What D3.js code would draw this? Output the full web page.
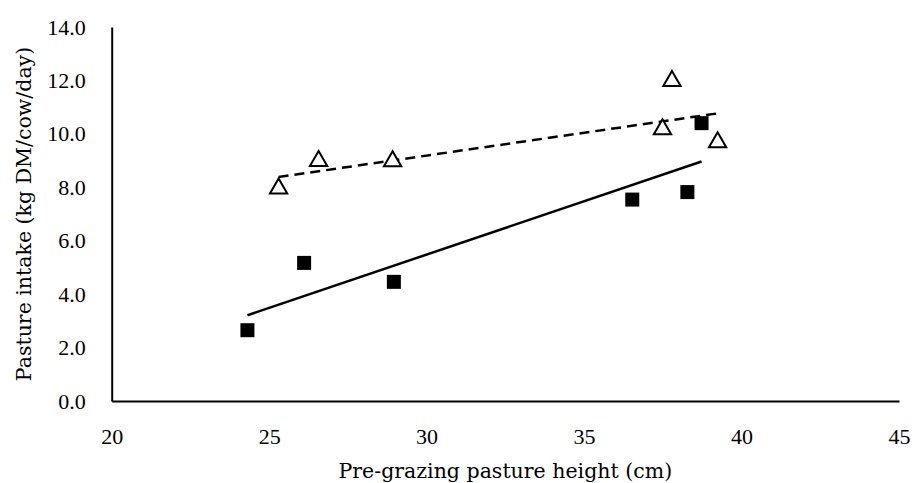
<!DOCTYPE html>
<html><head><meta charset="utf-8">
<script src="https://cdn.jsdelivr.net/npm/d3@7"></script>
<style>body{margin:0;background:#fff}svg{display:block}text{font-family:"DejaVu Serif",serif;fill:#000}</style>
</head><body><div id="chart"></div>
<script>
const xTicks = [20, 25, 30, 35, 40, 45];
const yTicks = [0, 2, 4, 6, 8, 10, 12, 14];
const squareX = [24.31, 26.11, 28.96, 36.53, 38.28, 38.73];
const squareY = [2.65, 5.17, 4.46, 7.54, 7.82, 10.40];
const triangleX = [25.30, 26.57, 28.92, 37.49, 37.79, 39.24];
const triangleY = [7.95, 8.98, 8.97, 10.17, 11.98, 9.69];
const xTitle = "Pre-grazing pasture height (cm)";
const yTitle = "Pasture intake (kg DM/cow/day)";

const W = 914, H = 483;
const m = {left: 111.7, right: 15, top: 27, bottom: 82};
const svg = d3.select("#chart").append("svg").attr("width", W).attr("height", H);
const x = d3.scaleLinear().domain([20, 45]).range([m.left, W - m.right]);
const y = d3.scaleLinear().domain([0, 14]).range([H - m.bottom, m.top]);

const tickFont = "Liberation Serif", tickSize = 22;
const titleSize = 20.5;
const xAxis = svg.append("g").attr("transform", `translate(0,${y(0)})`)
  .call(d3.axisBottom(x).tickValues(xTicks).tickFormat(d3.format("d")).tickSize(0).tickPadding(27));
xAxis.select(".domain").attr("stroke", "#000").attr("stroke-width", 2);
xAxis.selectAll("text").attr("font-size", tickSize).style("font-family", tickFont);

const yAxis = svg.append("g").attr("transform", `translate(${x(20)},0)`)
  .call(d3.axisLeft(y).tickValues(yTicks).tickFormat(d3.format(".1f")).tickSize(0).tickPadding(26));
yAxis.select(".domain").attr("stroke", "#000").attr("stroke-width", 2);
yAxis.selectAll("text").attr("font-size", tickSize).style("font-family", tickFont);

function fit(xs, ys) {
  const mx = d3.mean(xs), my = d3.mean(ys);
  const sxy = d3.sum(xs, (v, i) => (v - mx) * (ys[i] - my));
  const sxx = d3.sum(xs, v => (v - mx) * (v - mx));
  const b = sxy / sxx, a = my - b * mx;
  const [x0, x1] = d3.extent(xs);
  return [[x0, a + b * x0], [x1, a + b * x1]];
}
const line = d3.line().x(d => x(d[0])).y(d => y(d[1]));
svg.append("path").attr("d", line(fit(squareX, squareY)))
  .attr("fill", "none").attr("stroke", "#000").attr("stroke-width", 2.5);
svg.append("path").attr("d", line(fit(triangleX, triangleY)))
  .attr("fill", "none").attr("stroke", "#000").attr("stroke-width", 2.5).attr("stroke-dasharray", "10,6");

svg.append("g").selectAll("path").data(squareX).join("path")
  .attr("d", d3.symbol(d3.symbolSquare, 196))
  .attr("transform", (d, i) => `translate(${x(d)},${y(squareY[i])})`)
  .attr("fill", "#000");
svg.append("g").selectAll("path").data(triangleX).join("path")
  .attr("d", d3.symbol(d3.symbolTriangle, 130))
  .attr("transform", (d, i) => `translate(${x(d)},${y(triangleY[i])})`)
  .attr("fill", "#fff").attr("stroke", "#000").attr("stroke-width", 2);

svg.append("text").attr("x", (x(20) + x(45)) / 2).attr("y", 471).attr("dy", "0.35em")
  .attr("text-anchor", "middle").attr("font-size", titleSize).text(xTitle);
svg.append("text").attr("transform", `translate(24,${(y(0) + y(14)) / 2}) rotate(-90)`)
  .attr("dy", "0.35em").attr("text-anchor", "middle").attr("font-size", titleSize).text(yTitle);
</script></body></html>
